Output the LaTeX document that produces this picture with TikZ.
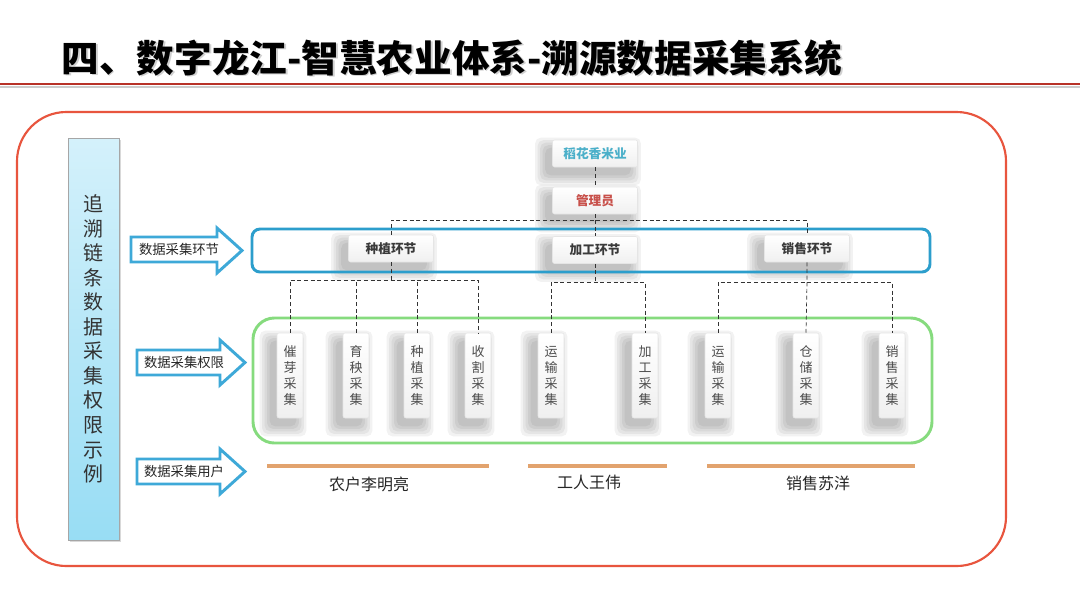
\documentclass[tikz,border=0pt]{standalone}
\usepackage{fontspec}
\setmainfont{Noto Sans CJK SC}
\pgfdeclarelayer{bgzero}
\pgfdeclarelayer{shadowlayer}
\pgfsetlayers{bgzero,shadowlayer,main}
\definecolor{framered}{HTML}{E8553E}
\definecolor{titlered}{HTML}{B83228}
\definecolor{arrowblue}{HTML}{3EA9D8}
\definecolor{rectblue}{HTML}{2C9ECC}
\definecolor{greenr}{HTML}{86DB7E}
\definecolor{orangeline}{HTML}{E2A36E}
\definecolor{compblue}{HTML}{4AAFC9}
\definecolor{adminred}{HTML}{C8504A}
\definecolor{darktext}{HTML}{3A3A3A}
\definecolor{bartop}{HTML}{D4F1FB}
\definecolor{barbot}{HTML}{98DDF4}
\tikzset{
  card/.style={draw=gray!20, rounded corners=1.5pt, top color=white, bottom color=gray!12,
    inner sep=0pt},
  hcard/.style={card, minimum width=63.75pt, minimum height=20.25pt,
    font=\fontsize{9.5}{11}\selectfont\bfseries, text=darktext},
  vcard/.style={card, minimum width=19.5pt, minimum height=63.75pt,
    font=\fontsize{9.75}{12}\selectfont, text=black!70, align=center},
  softshadow/.style={black, opacity=0.05, rounded corners=4pt},
  dl/.style={densely dashed, line width=0.5pt, black!80},
  bigarrow/.style={draw=arrowblue, line width=2.2pt, fill=white, line join=miter},
  arrowtext/.style={font=\fontsize{10}{12}\selectfont, text=black!85},
  userline/.style={orangeline, line width=2.4pt},
  usertext/.style={font=\fontsize{12}{14}\selectfont, text=black!85},
}
\begin{document}
\begin{tikzpicture}[x=0.75pt,y=-0.75pt]
\useasboundingbox (0,0) rectangle (1080,608);
\begin{pgfonlayer}{bgzero}
\fill[white] (0,0) rectangle (1080,608);
\end{pgfonlayer}
% title
\node[anchor=west, font=\fontsize{28.2}{30}\selectfont\bfseries, text=gray!60, opacity=0.6] at (58.5,59.5) {四、数字龙江-智慧农业体系-溯源数据采集系统};
\node[anchor=west, font=\fontsize{28.2}{30}\selectfont\bfseries, text=black] (title) at (57,58) {四、数字龙江-智慧农业体系-溯源数据采集系统};
\draw[gray!40, line width=2pt] (0,87) -- (1080,87);
\draw[titlered, line width=1.5pt] (0,84) -- (1080,84);
% main frame
\draw[framered, line width=1.6pt, rounded corners=37pt] (17,112) rectangle (1006,566);
% left bar
\fill[black, opacity=0.15] (70,140) rectangle (121,542);
\node[draw=black!35, line width=0.6pt, top color=bartop, bottom color=barbot,
  minimum width=38.25pt, minimum height=301.5pt, inner sep=0pt,
  font=\fontsize{15}{18.4}\selectfont, text=black!80, align=center] (bar) at (93.5,339)
  {追\\溯\\链\\条\\数\\据\\采\\集\\权\\限\\示\\例};
% arrows
\path[bigarrow] (131,237) -- (217,237) -- (217,228) -- (242,250.5) -- (217,273) -- (217,262) -- (131,262) -- cycle;
\node[arrowtext] (a1) at (179,249.5) {数据采集环节};
\path[bigarrow] (137,350) -- (220,350) -- (220,340) -- (245,362.5) -- (220,385) -- (220,375) -- (137,375) -- cycle;
\node[arrowtext] (a2) at (184,362.5) {数据采集权限};
\path[bigarrow] (137,459) -- (220,459) -- (220,449) -- (245,471.5) -- (220,494) -- (220,484) -- (137,484) -- cycle;
\node[arrowtext] (a3) at (184,471.5) {数据采集用户};
% stage and permission frames
\draw[rectblue, line width=2.2pt, rounded corners=6pt] (252,229) rectangle (930,272);
\draw[greenr, line width=2.2pt, rounded corners=16pt] (253,318) rectangle (932,443);
% top cards
\node[hcard, text=compblue] (comp) at (595,153.5) {稻花香米业};
\node[hcard, text=adminred] (admin) at (595,200.5) {管理员};
% stage cards
\node[hcard] (zz) at (391,248.5) {种植环节};
\node[hcard] (jg) at (595,250) {加工环节};
\node[hcard] (xs) at (807,248.5) {销售环节};
% collection cards
\node[vcard] (c1) at (290,375.5) {催\\芽\\采\\集};
\node[vcard] (c2) at (356,375.5) {育\\秧\\采\\集};
\node[vcard] (c3) at (417,375.5) {种\\植\\采\\集};
\node[vcard] (c4) at (478,375.5) {收\\割\\采\\集};
\node[vcard] (c5) at (551,375.5) {运\\输\\采\\集};
\node[vcard] (c6) at (645,375.5) {加\\工\\采\\集};
\node[vcard] (c7) at (718,375.5) {运\\输\\采\\集};
\node[vcard] (c8) at (806,375.5) {仓\\储\\采\\集};
\node[vcard] (c9) at (892,375.5) {销\\售\\采\\集};
% soft shadows
\begin{pgfonlayer}{shadowlayer}
\foreach \n in {comp,admin,zz,jg,xs,c1,c2,c3,c4,c5,c6,c7,c8,c9}{
  \foreach \r in {0,2.5,5,7.5,10}{
    \fill[softshadow] ([shift={(-7-\r,8+\r)}]\n.south west) rectangle ([shift={(-7+\r,8-\r)}]\n.north east);
  }
}
\end{pgfonlayer}
% connectors level 0/1
\coordinate (hub) at (595,220);
\draw[dl] (comp.south) -- (admin.north);
\draw[dl] (admin.south) -- (hub);
\draw[dl] (zz.north) |- (hub) -| (xs.north);
\draw[dl] (hub) -- (jg.north);
% connectors level 2
\coordinate (hz) at (391,280);
\coordinate (hj) at (595,282);
\coordinate (hx) at (807,282);
\draw[dl] (zz.south) -- (hz);
\draw[dl] (c1.north) |- (hz) -| (c4.north);
\draw[dl] (c2.north) -- (c2.north |- hz);
\draw[dl] (c3.north) -- (c3.north |- hz);
\draw[dl] (jg.south) -- (hj);
\draw[dl] (c5.north) |- (hj) -| (c6.north);
\draw[dl] (xs.south) -- (hx) -- (c8.north);
\draw[dl] (c7.north) |- (hx) -| (c9.north);
% users
\draw[userline] (267,466) coordinate (u1a) -- (489,466) coordinate (u1b);
\draw[userline] (528,466) coordinate (u2a) -- (667,466) coordinate (u2b);
\draw[userline] (707,466) coordinate (u3a) -- (915,466) coordinate (u3b);
\node[usertext] (u1) at (369,484) {农户李明亮};
\node[usertext] (u2) at (589,482) {工人王伟};
\node[usertext] (u3) at (818,483) {销售苏洋};
\end{tikzpicture}
\end{document}
